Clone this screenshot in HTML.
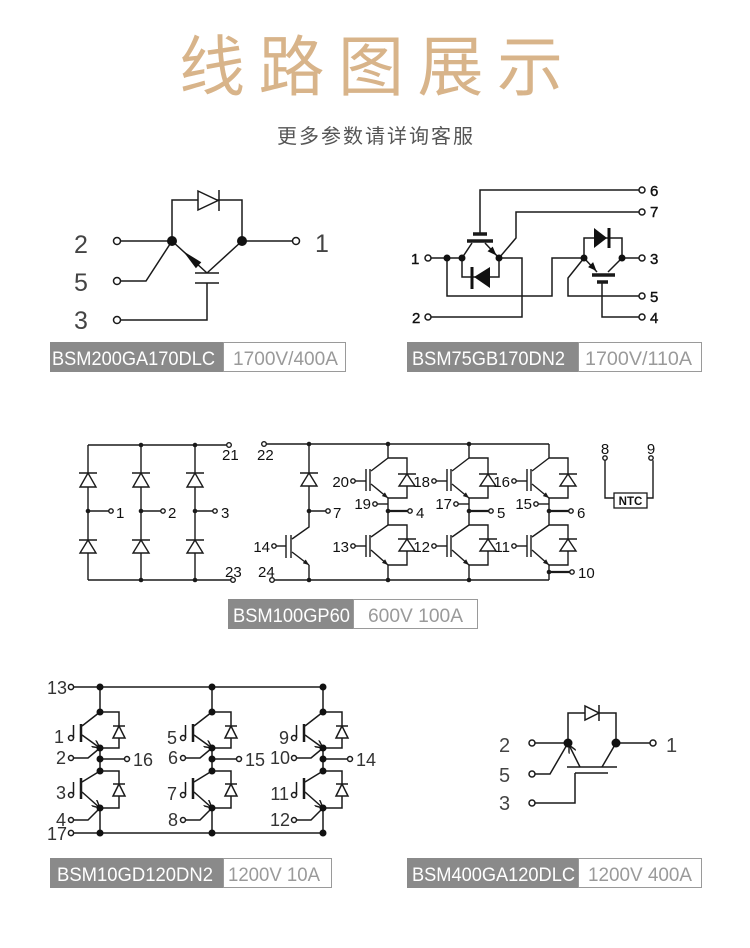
<!DOCTYPE html>
<html><head><meta charset="utf-8"><style>
html,body{margin:0;padding:0;background:#fff;}
svg{display:block;}
</style></head><body>
<svg width="750" height="948" viewBox="0 0 750 948" xmlns="http://www.w3.org/2000/svg">
<defs>
<marker id="af" viewBox="0 0 10 8" refX="10" refY="4" markerWidth="6" markerHeight="5" orient="auto" markerUnits="userSpaceOnUse"><path d="M0,0L10,4L0,8z" fill="#1a1a1a"/></marker>
<marker id="ao" viewBox="0 0 10 10" refX="10" refY="5" markerWidth="8" markerHeight="8" orient="auto" markerUnits="userSpaceOnUse"><path d="M0,0L10,5L0,10" fill="none" stroke="#1a1a1a" stroke-width="1.8"/></marker>
</defs>
<rect width="750" height="948" fill="#fff"/>

<!-- Title -->
<text x="179" y="90" font-family="'Liberation Sans','Noto Sans CJK SC',sans-serif" font-size="66" fill="#d8b48a" textLength="384" lengthAdjust="spacing">线路图展示</text>
<text x="277" y="143" font-family="'Liberation Sans','Noto Sans CJK SC',sans-serif" font-size="20" fill="#555" textLength="196" lengthAdjust="spacing">更多参数请详询客服</text>

<!-- ============ Circuit 1 ============ -->
<g fill="none" stroke="#1a1a1a" stroke-width="1.5">
<circle cx="117" cy="241" r="3.5"/><circle cx="117" cy="281" r="3.5"/><circle cx="117" cy="320" r="3.5"/><circle cx="296" cy="241" r="3.5"/>
<path d="M120.5,241H172M242,241H292.5"/>
<path d="M120.5,281H146L172,241"/>
<path d="M120.5,320H207V283"/>
<path d="M195,283H219M195,273H219"/>
<path d="M172,241L207,273M242,241L207,273"/>
<path d="M172,241V200H242V241"/>
<path d="M198,191V210L218,200.5Z" fill="#fff"/>
<path d="M219,190V211"/>
</g>
<circle cx="172" cy="241" r="5" fill="#111"/><circle cx="242" cy="241" r="5" fill="#111"/>
<polygon points="183,251 195.9,268.2 201.3,262.3" fill="#111"/>
<g font-family="'Liberation Sans',sans-serif" font-size="25" fill="#444">
<text x="74" y="253">2</text><text x="74" y="291">5</text><text x="74" y="329">3</text><text x="315" y="252">1</text>
</g>
<rect x="50" y="342" width="173" height="30" fill="#8a8a8a"/>
<rect x="223.5" y="342.5" width="122" height="29" fill="#fff" stroke="#9a9a9a"/>
<g font-family="'Liberation Sans',sans-serif" font-size="19">
<text x="52" y="365" fill="#fff" textLength="163" lengthAdjust="spacingAndGlyphs">BSM200GA170DLC</text>
<text x="233" y="365" fill="#9a9a9a" textLength="105" lengthAdjust="spacingAndGlyphs">1700V/400A</text>
</g>

<!-- ============ Circuit 2 ============ -->
<g fill="none" stroke="#1a1a1a" stroke-width="1.5">
<circle cx="642" cy="190" r="3"/><circle cx="642" cy="212" r="3"/><circle cx="642" cy="258" r="3"/><circle cx="642" cy="296" r="3"/><circle cx="642" cy="317" r="3"/><circle cx="428" cy="258" r="3"/><circle cx="428" cy="317" r="3"/>
<path d="M639,190H480V234"/>
<path d="M639,212H516V238L499,258"/>
<path d="M431,258H462"/>
<path d="M472,243L462,258M485,243L499,258"/>
<path d="M499,258H522V317H431"/>
<path d="M462,258V277H499V258"/>
<path d="M447,258V296H552V258H584"/>
<path d="M584,258V238H622V258H639"/>
<path d="M584,258L597,272M622,258L608,272"/>
<path d="M602,283V317H639"/>
<path d="M639,296H568V278L584,258"/>
</g>
<path d="M473,234H487M467,241H493M592,275H615M597,282H608" stroke="#1a1a1a" stroke-width="3.5"/>
<path d="M472,267V289M609,228V248" stroke="#111" stroke-width="3"/>
<polygon points="474,277 490,267 490,288" fill="#111"/>
<polygon points="594,228 594,248 607,238" fill="#111"/>
<polygon points="496.5,255.5 487.5,251.2 492.7,246.6" fill="#111"/>
<polygon points="596.5,271 588.1,267.1 593.1,262.1" fill="#111"/>
<g fill="#111"><circle cx="447" cy="258" r="3.5"/><circle cx="462" cy="258" r="3.5"/><circle cx="499" cy="258" r="3.5"/><circle cx="584" cy="258" r="3.5"/><circle cx="622" cy="258" r="3.5"/></g>
<g font-family="'Liberation Sans',sans-serif" font-size="15" fill="#111" stroke="#111" stroke-width="0.4">
<text x="650" y="196">6</text><text x="650" y="217">7</text><text x="650" y="264">3</text><text x="650" y="302">5</text><text x="650" y="323">4</text>
<text x="411" y="264">1</text><text x="412" y="323">2</text>
</g>
<rect x="407" y="342" width="171" height="30" fill="#8a8a8a"/>
<rect x="578.5" y="342.5" width="123" height="29" fill="#fff" stroke="#9a9a9a"/>
<g font-family="'Liberation Sans',sans-serif" font-size="19">
<text x="412" y="365" fill="#fff" textLength="153" lengthAdjust="spacingAndGlyphs">BSM75GB170DN2</text>
<text x="585" y="365" fill="#9a9a9a" textLength="107" lengthAdjust="spacingAndGlyphs">1700V/110A</text>
</g>

<!-- ============ Circuit 3 ============ -->
<g fill="none" stroke="#1a1a1a" stroke-width="1.4">
<!-- left bridge -->
<path d="M88,445H226.5M88,580H230.5M88,445V580M141,445V580M195,445V580"/>
<circle cx="229" cy="445" r="2.3"/><circle cx="233" cy="580" r="2.3"/>
<path d="M79,473H97M132,473H150M186,473H204M79,540H97M132,540H150M186,540H204"/>
<polygon points="88,473 80,487 96,487" fill="#fff"/>
<polygon points="141,473 133,487 149,487" fill="#fff"/>
<polygon points="195,473 187,487 203,487" fill="#fff"/>
<polygon points="88,540 80,553 96,553" fill="#fff"/>
<polygon points="141,540 133,553 149,553" fill="#fff"/>
<polygon points="195,540 187,553 203,553" fill="#fff"/>
<path d="M88,511H108.8M141,511H160.8M195,511H212.8"/>
<circle cx="111" cy="511" r="2.2"/><circle cx="163" cy="511" r="2.2"/><circle cx="215" cy="511" r="2.2"/>

<!-- right rails -->
<circle cx="264" cy="444" r="2.3"/><circle cx="272" cy="580" r="2.3"/>
<path d="M266.3,444H549M274.3,580H549"/>
<!-- left leg -->
<path d="M309,444V527L292,539M309,565V580"/>
<path d="M292,552L309,565" marker-end="url(#af)"/>
<path d="M286,535V558M291,535V558"/>
<path d="M300,473H318"/>
<polygon points="309,473 301,486 317,486" fill="#fff"/>
<path d="M309,511H325.8"/><circle cx="328" cy="511" r="2.2"/>
<circle cx="274" cy="546" r="2.2"/><path d="M276.2,546H286"/>

<!-- columns -->
<g id="col">
<path d="M388,444V458H407V498H388M388,458L371,471M388,498V525H407V565H388M388,525L371,537M388,565V580"/>
<path d="M371,484L388,498" marker-end="url(#af)"/>
<path d="M371,550L388,565" marker-end="url(#af)"/>
<path d="M366,469V491M370,469V491M366,535V557M370,535V557"/>
<path d="M398,474H416M398,539H416"/>
<polygon points="407,474 399,486 415,486" fill="#fff"/>
<polygon points="407,539 399,551 415,551" fill="#fff"/>
<circle cx="353" cy="481" r="2.2"/><path d="M355.2,481H366"/>
<circle cx="353" cy="546" r="2.2"/><path d="M355.2,546H366"/>
<circle cx="375" cy="504" r="2.2"/><path d="M377.2,504H388"/>
<path d="M388,511H407.8" stroke-width="2.2"/><circle cx="410" cy="511" r="2.2"/>
</g>
<g transform="translate(81,0)">
<path d="M388,444V458H407V498H388M388,458L371,471M388,498V525H407V565H388M388,525L371,537M388,565V580"/>
<path d="M371,484L388,498" marker-end="url(#af)"/>
<path d="M371,550L388,565" marker-end="url(#af)"/>
<path d="M366,469V491M370,469V491M366,535V557M370,535V557"/>
<path d="M398,474H416M398,539H416"/>
<polygon points="407,474 399,486 415,486" fill="#fff"/>
<polygon points="407,539 399,551 415,551" fill="#fff"/>
<circle cx="353" cy="481" r="2.2"/><path d="M355.2,481H366"/>
<circle cx="353" cy="546" r="2.2"/><path d="M355.2,546H366"/>
<circle cx="375" cy="504" r="2.2"/><path d="M377.2,504H388"/>
<path d="M388,511H407.8" stroke-width="2.2"/><circle cx="410" cy="511" r="2.2"/>
</g>
<g transform="translate(161,0)">
<path d="M388,444V458H407V498H388M388,458L371,471M388,498V525H407V565H388M388,525L371,537M388,565V580"/>
<path d="M371,484L388,498" marker-end="url(#af)"/>
<path d="M371,550L388,565" marker-end="url(#af)"/>
<path d="M366,469V491M370,469V491M366,535V557M370,535V557"/>
<path d="M398,474H416M398,539H416"/>
<polygon points="407,474 399,486 415,486" fill="#fff"/>
<polygon points="407,539 399,551 415,551" fill="#fff"/>
<circle cx="353" cy="481" r="2.2"/><path d="M355.2,481H366"/>
<circle cx="353" cy="546" r="2.2"/><path d="M355.2,546H366"/>
<circle cx="375" cy="504" r="2.2"/><path d="M377.2,504H388"/>
<path d="M388,511H407.8" stroke-width="2.2"/><circle cx="410" cy="511" r="2.2"/>
<path d="M388,572H408.8" stroke-width="2.2"/><circle cx="411" cy="572" r="2.2"/>
</g>
<!-- NTC -->
<circle cx="605" cy="458" r="2.2"/><circle cx="651" cy="458" r="2.2"/>
<path d="M605,460.2V498H614M647,498H653V460.2"/>
<rect x="614" y="493" width="33" height="15" stroke-width="1.3"/>
</g>
<g fill="#1a1a1a">
<circle cx="141" cy="445" r="2.3"/><circle cx="195" cy="445" r="2.3"/><circle cx="141" cy="580" r="2.3"/><circle cx="195" cy="580" r="2.3"/>
<circle cx="88" cy="511" r="2.3"/><circle cx="141" cy="511" r="2.3"/><circle cx="195" cy="511" r="2.3"/>
<circle cx="309" cy="444" r="2.3"/><circle cx="388" cy="444" r="2.3"/><circle cx="469" cy="444" r="2.3"/>
<circle cx="309" cy="580" r="2.3"/><circle cx="388" cy="580" r="2.3"/><circle cx="469" cy="580" r="2.3"/>
<circle cx="309" cy="511" r="2.3"/><circle cx="388" cy="511" r="2.3"/><circle cx="469" cy="511" r="2.3"/><circle cx="549" cy="511" r="2.3"/>
<circle cx="549" cy="572" r="2.3"/>
</g>
<g font-family="'Liberation Sans',sans-serif" font-size="15" fill="#111">
<text x="222" y="460">21</text><text x="225" y="577">23</text>
<text x="257" y="460">22</text><text x="258" y="577">24</text>
<text x="116" y="518">1</text><text x="168" y="518">2</text><text x="221" y="518">3</text>
<text x="333" y="518">7</text>
<text x="270" y="552" text-anchor="end">14</text>
<text x="349" y="487" text-anchor="end">20</text><text x="371" y="509" text-anchor="end">19</text><text x="416" y="518">4</text><text x="349" y="552" text-anchor="end">13</text>
<text x="430" y="487" text-anchor="end">18</text><text x="452" y="509" text-anchor="end">17</text><text x="497" y="518">5</text><text x="430" y="552" text-anchor="end">12</text>
<text x="510" y="487" text-anchor="end">16</text><text x="532" y="509" text-anchor="end">15</text><text x="577" y="518">6</text><text x="510" y="552" text-anchor="end">11</text>
<text x="578" y="578">10</text>
<text x="605" y="454" text-anchor="middle">8</text><text x="651" y="454" text-anchor="middle">9</text>
<text x="630.5" y="505" text-anchor="middle" font-size="11.5" font-weight="bold">NTC</text>
</g>
<rect x="228" y="599" width="125" height="30" fill="#8a8a8a"/>
<rect x="353.5" y="599.5" width="124" height="29" fill="#fff" stroke="#9a9a9a"/>
<g font-family="'Liberation Sans',sans-serif" font-size="19">
<text x="233" y="622" fill="#fff" textLength="117" lengthAdjust="spacingAndGlyphs">BSM100GP60</text>
<text x="368" y="622" fill="#9a9a9a" textLength="95" lengthAdjust="spacingAndGlyphs">600V 100A</text>
</g>

<!-- ============ Circuit 4 ============ -->
<g fill="none" stroke="#1a1a1a" stroke-width="1.5">
<circle cx="71" cy="687" r="2.6"/><circle cx="71" cy="833" r="2.6"/>
<path d="M73.6,687H323M73.6,833H323"/>
<g>
<path d="M100,687V712H119V748H100M100,712L82,726M100,748V771H119V808H100M100,771L82,782M100,808V833"/>
<path d="M82,735L100,748" marker-end="url(#ao)"/>
<path d="M82,792L100,808" marker-end="url(#ao)"/>
<path d="M81,724V742M81,778V799" stroke-width="2.5"/>
<path d="M113,726H125M113,784H125"/>
<polygon points="119,726 113,738 125,738" fill="#fff"/>
<polygon points="119,784 113,796 125,796" fill="#fff"/>
<circle cx="71" cy="738" r="2.5"/><path d="M73.5,738V725"/>
<circle cx="71" cy="795" r="2.5"/><path d="M73.5,795V782"/>
<circle cx="71" cy="758" r="2.5"/><path d="M73.5,758H88L100,748"/>
<circle cx="71" cy="820" r="2.5"/><path d="M73.5,820H88L100,808"/>
<path d="M100,759H124.5"/><circle cx="127" cy="759" r="2.5"/>
</g>
<g transform="translate(112,0)">
<path d="M100,687V712H119V748H100M100,712L82,726M100,748V771H119V808H100M100,771L82,782M100,808V833"/>
<path d="M82,735L100,748" marker-end="url(#ao)"/>
<path d="M82,792L100,808" marker-end="url(#ao)"/>
<path d="M81,724V742M81,778V799" stroke-width="2.5"/>
<path d="M113,726H125M113,784H125"/>
<polygon points="119,726 113,738 125,738" fill="#fff"/>
<polygon points="119,784 113,796 125,796" fill="#fff"/>
<circle cx="71" cy="738" r="2.5"/><path d="M73.5,738V725"/>
<circle cx="71" cy="795" r="2.5"/><path d="M73.5,795V782"/>
<circle cx="71" cy="758" r="2.5"/><path d="M73.5,758H88L100,748"/>
<circle cx="71" cy="820" r="2.5"/><path d="M73.5,820H88L100,808"/>
<path d="M100,759H124.5"/><circle cx="127" cy="759" r="2.5"/>
</g>
<g transform="translate(223,0)">
<path d="M100,687V712H119V748H100M100,712L82,726M100,748V771H119V808H100M100,771L82,782M100,808V833"/>
<path d="M82,735L100,748" marker-end="url(#ao)"/>
<path d="M82,792L100,808" marker-end="url(#ao)"/>
<path d="M81,724V742M81,778V799" stroke-width="2.5"/>
<path d="M113,726H125M113,784H125"/>
<polygon points="119,726 113,738 125,738" fill="#fff"/>
<polygon points="119,784 113,796 125,796" fill="#fff"/>
<circle cx="71" cy="738" r="2.5"/><path d="M73.5,738V725"/>
<circle cx="71" cy="795" r="2.5"/><path d="M73.5,795V782"/>
<circle cx="71" cy="758" r="2.5"/><path d="M73.5,758H88L100,748"/>
<circle cx="71" cy="820" r="2.5"/><path d="M73.5,820H88L100,808"/>
<path d="M100,759H124.5"/><circle cx="127" cy="759" r="2.5"/>
</g>
</g>
<g fill="#111">
<circle cx="100" cy="687" r="3.5"/><circle cx="100" cy="712" r="3.5"/><circle cx="100" cy="748" r="3.5"/><circle cx="100" cy="759" r="3.5"/><circle cx="100" cy="771" r="3.5"/><circle cx="100" cy="808" r="3.5"/><circle cx="100" cy="833" r="3.5"/>
<circle cx="212" cy="687" r="3.5"/><circle cx="212" cy="712" r="3.5"/><circle cx="212" cy="748" r="3.5"/><circle cx="212" cy="759" r="3.5"/><circle cx="212" cy="771" r="3.5"/><circle cx="212" cy="808" r="3.5"/><circle cx="212" cy="833" r="3.5"/>
<circle cx="323" cy="687" r="3.5"/><circle cx="323" cy="712" r="3.5"/><circle cx="323" cy="748" r="3.5"/><circle cx="323" cy="759" r="3.5"/><circle cx="323" cy="771" r="3.5"/><circle cx="323" cy="808" r="3.5"/><circle cx="323" cy="833" r="3.5"/>
</g>
<g font-family="'Liberation Sans',sans-serif" font-size="18" fill="#333">
<text x="67" y="694" text-anchor="end">13</text><text x="67" y="840" text-anchor="end">17</text>
<text x="64" y="743" text-anchor="end">1</text><text x="66" y="764" text-anchor="end">2</text><text x="66" y="799" text-anchor="end">3</text><text x="66" y="826" text-anchor="end">4</text>
<text x="133" y="766">16</text>
<text x="177" y="744" text-anchor="end">5</text><text x="178" y="764" text-anchor="end">6</text><text x="177" y="800" text-anchor="end">7</text><text x="178" y="826" text-anchor="end">8</text>
<text x="245" y="766">15</text>
<text x="289" y="744" text-anchor="end">9</text><text x="290" y="764" text-anchor="end">10</text><text x="289" y="800" text-anchor="end">11</text><text x="290" y="826" text-anchor="end">12</text>
<text x="356" y="766">14</text>
</g>
<rect x="50" y="858" width="173" height="30" fill="#8a8a8a"/>
<rect x="223.5" y="858.5" width="108" height="29" fill="#fff" stroke="#9a9a9a"/>
<g font-family="'Liberation Sans',sans-serif" font-size="19">
<text x="57" y="881" fill="#fff" textLength="156" lengthAdjust="spacingAndGlyphs">BSM10GD120DN2</text>
<text x="228" y="881" fill="#9a9a9a" textLength="92" lengthAdjust="spacingAndGlyphs">1200V 10A</text>
</g>

<!-- ============ Circuit 5 ============ -->
<g fill="none" stroke="#1a1a1a" stroke-width="1.5">
<circle cx="532" cy="743" r="3"/><circle cx="532" cy="774" r="3"/><circle cx="532" cy="803" r="3"/><circle cx="653" cy="743" r="3"/>
<path d="M535,743H568V713H616V743H650"/>
<path d="M535,774H550L568,743"/>
<path d="M616,743L602,767"/>
<path d="M580,767L569,745" marker-end="url(#ao)"/>
<path d="M567,767H617"/>
<path d="M575,773H608M575,773V803H535"/>
<path d="M585,706V720L599,713Z" fill="#fff"/><path d="M599,705V721"/>
</g>
<circle cx="568" cy="743" r="4.5" fill="#111"/><circle cx="616" cy="743" r="4.5" fill="#111"/>
<g font-family="'Liberation Sans',sans-serif" font-size="20" fill="#444">
<text x="499" y="752">2</text><text x="499" y="782">5</text><text x="499" y="810">3</text><text x="666" y="752">1</text>
</g>
<rect x="407" y="858" width="171" height="30" fill="#8a8a8a"/>
<rect x="578.5" y="858.5" width="123" height="29" fill="#fff" stroke="#9a9a9a"/>
<g font-family="'Liberation Sans',sans-serif" font-size="19">
<text x="412" y="881" fill="#fff" textLength="163" lengthAdjust="spacingAndGlyphs">BSM400GA120DLC</text>
<text x="588" y="881" fill="#9a9a9a" textLength="104" lengthAdjust="spacingAndGlyphs">1200V 400A</text>
</g>
</svg>
</body></html>
